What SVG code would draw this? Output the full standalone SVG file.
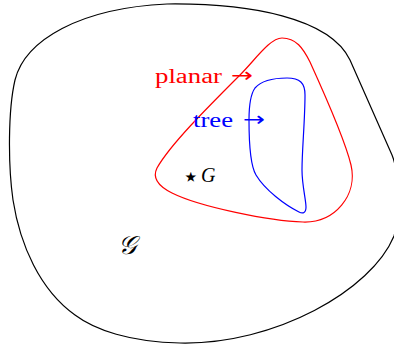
<svg xmlns="http://www.w3.org/2000/svg" width="394" height="347" viewBox="0 0 394 347">
<style>
.reg{fill:none;stroke-width:1.2;stroke-linejoin:round}
.lbl{font-family:"Liberation Serif",serif;font-size:20px}
.arr{font-family:"DejaVu Sans",sans-serif;font-size:20px}
</style>
<rect width="394" height="347" fill="#fff"/>
<g id="universe">
<path class="reg" stroke="#000" d="M 167,4 C 250,3 330,18 350,60 L 392,155 C 400,175 400,215 394,236 C 372,290 275,345 180,343 C 130,342 95,330 75,315 C 40,290 20,245 13,200 C 8,165 8,110 15,80 C 25,40 80,8 167,4 Z"/>
<text class="lbl" x="118" y="254" style="font-size:26px" font-style="italic">𝒢</text>
</g>
<g id="planar">
<path class="reg" stroke="#f00" d="M 282,38 C 296,38 303,48 310,62 C 325,95 345,140 351,165 C 358,195 335,223 303,222 C 270,221 200,207 172,193 C 158,186 152,178 157,168 C 170,145 205,110 240,75 C 255,60 270,38 282,38 Z"/>
<text class="lbl" x="155" y="83" fill="#f00" textLength="67" lengthAdjust="spacingAndGlyphs">planar</text>
<text class="arr" x="231" y="82" fill="#f00" textLength="22" lengthAdjust="spacingAndGlyphs">→</text>
</g>
<g id="tree">
<path class="reg" stroke="#00f" d="M 287,78 C 300,78 305,83 305,95 C 305,120 302,150 302,170 C 302,185 306,200 306,207 C 306,213 303,214 299,212 C 285,205 265,190 256,175 C 250,165 249,140 249,120 C 249,105 250,95 255,88 C 262,80 275,78 287,78 Z"/>
<text class="lbl" x="193" y="127" fill="#00f" textLength="40" lengthAdjust="spacingAndGlyphs">tree</text>
<text class="arr" x="243" y="126" fill="#00f" textLength="22" lengthAdjust="spacingAndGlyphs">→</text>
</g>
<g id="G">
<text class="arr" x="182" y="186" style="font-size:28px">⋆</text>
<text class="lbl" x="201" y="182" font-style="italic">G</text>
</g>
<g id="connectors"></g>
</svg>
